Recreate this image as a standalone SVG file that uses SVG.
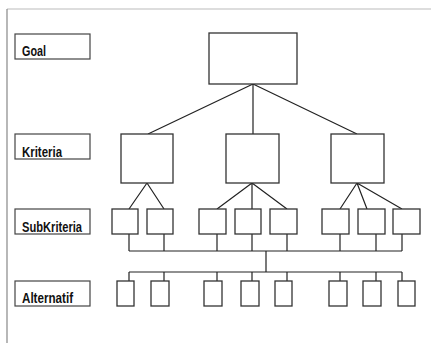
<svg xmlns="http://www.w3.org/2000/svg" width="431" height="343" viewBox="0 0 431 343">
<style>
.box{fill:#fff;stroke:#333;stroke-width:1.3}
.lbl{fill:#fff;stroke:#444;stroke-width:1.2}
.t{font-family:"Liberation Sans",Arial,sans-serif;font-weight:bold;font-size:14px;fill:#111}
.c{fill:none;stroke:#222;stroke-width:1.2}
</style>
<rect width="431" height="343" fill="#fff"/>
<line x1="7" y1="9" x2="431" y2="9" stroke="#bbb" stroke-width="1"/>
<line x1="7" y1="9" x2="7" y2="343" stroke="#888" stroke-width="1.2"/>
<g id="label-goal"><rect class="lbl" x="15" y="34" width="75" height="25"/><text class="t" x="22" y="56" textLength="24" lengthAdjust="spacingAndGlyphs">Goal</text></g>
<g id="label-kriteria"><rect class="lbl" x="15" y="134" width="75" height="25"/><text class="t" x="22" y="157" textLength="40" lengthAdjust="spacingAndGlyphs">Kriteria</text></g>
<g id="label-subkriteria"><rect class="lbl" x="15" y="209" width="75" height="25"/><text class="t" x="22" y="232" textLength="60" lengthAdjust="spacingAndGlyphs">SubKriteria</text></g>
<g id="label-alternatif"><rect class="lbl" x="15" y="281" width="75" height="25"/><text class="t" x="22" y="303" textLength="51" lengthAdjust="spacingAndGlyphs">Alternatif</text></g>
<g id="connectors">
<path class="c" d="M253 84 L148 134 M253 84 L253 134 M253 84 L357 134"/>
<path class="c" d="M147 183 L129 209 M147 183 L164 209"/>
<path class="c" d="M252 183 L217 209 M252 183 L252 209 M252 183 L287 209"/>
<path class="c" d="M357 183 L340 209 M357 183 L367 209 M357 183 L402 209"/>
<path class="c" d="M129 234 V251 M164 234 V251 M217 234 V251 M252 234 V251 M287 234 V251 M340 234 V251 M376 234 V251 M402 234 V251 M129 251 H402 M266 251 V272 M129 272 H402"/>
<path class="c" d="M129 272 V281 M164 272 V281 M217 272 V281 M252 272 V281 M287 272 V281 M340 272 V281 M376 272 V281 M402 272 V281"/>
</g>
<g id="goal"><rect class="box" x="209" y="33" width="88" height="51"/></g>
<g id="kriteria-1"><rect class="box" x="121" y="134" width="52" height="49"/></g>
<g id="kriteria-2"><rect class="box" x="226" y="134" width="53" height="49"/></g>
<g id="kriteria-3"><rect class="box" x="331" y="134" width="53" height="49"/></g>
<g id="sub-1"><rect class="box" x="112" y="209" width="26" height="25"/></g>
<g id="sub-2"><rect class="box" x="147" y="209" width="26" height="25"/></g>
<g id="sub-3"><rect class="box" x="199" y="209" width="27" height="25"/></g>
<g id="sub-4"><rect class="box" x="235" y="209" width="26" height="25"/></g>
<g id="sub-5"><rect class="box" x="270" y="209" width="27" height="25"/></g>
<g id="sub-6"><rect class="box" x="322" y="209" width="27" height="25"/></g>
<g id="sub-7"><rect class="box" x="358" y="209" width="27" height="25"/></g>
<g id="sub-8"><rect class="box" x="393" y="209" width="27" height="25"/></g>
<g id="alt-1"><rect class="box" x="117" y="281" width="17" height="25"/></g>
<g id="alt-2"><rect class="box" x="151" y="281" width="18" height="25"/></g>
<g id="alt-3"><rect class="box" x="204" y="281" width="18" height="25"/></g>
<g id="alt-4"><rect class="box" x="241" y="281" width="18" height="25"/></g>
<g id="alt-5"><rect class="box" x="275" y="281" width="17" height="25"/></g>
<g id="alt-6"><rect class="box" x="329" y="281" width="18" height="25"/></g>
<g id="alt-7"><rect class="box" x="363" y="281" width="18" height="25"/></g>
<g id="alt-8"><rect class="box" x="398" y="281" width="17" height="25"/></g>
</svg>
